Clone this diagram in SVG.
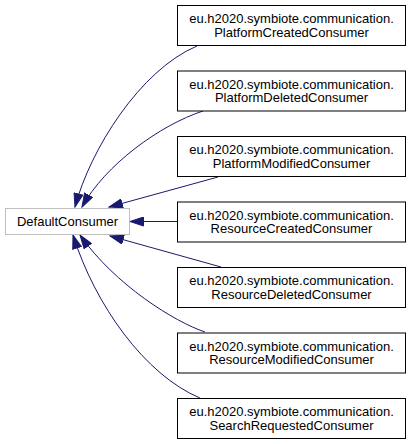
<svg xmlns="http://www.w3.org/2000/svg" width="411" height="444" viewBox="0 0 411 444">
<style>
.box{fill:#fff;stroke:#000;stroke-width:1}
.base{fill:#fff;stroke:#bfbfbf;stroke-width:1}
text{font-family:"Liberation Sans",Arial,sans-serif;font-size:13px;fill:#000;text-anchor:middle}
.edge{fill:none;stroke:#191970;stroke-width:1}
</style>
<defs>
<marker id="ah" markerWidth="15" markerHeight="10" refX="14" refY="5" orient="auto" markerUnits="userSpaceOnUse">
<polygon points="0.5,0.5 14,5 0.5,9.5" fill="#191970" stroke="#191970"/>
</marker>
</defs>
<rect width="411" height="444" fill="#fff"/>
<g id="connectors">
<path class="edge" marker-end="url(#ah)" d="M197,46 C140,70 90,150 75,207"/>
<path class="edge" marker-end="url(#ah)" d="M203,111 C160,125 105,165 82,207"/>
<path class="edge" marker-end="url(#ah)" d="M218,177 L109,207"/>
<path class="edge" marker-end="url(#ah)" d="M177,221.5 L130,221.5"/>
<path class="edge" marker-end="url(#ah)" d="M221,267 L110,236"/>
<path class="edge" marker-end="url(#ah)" d="M205,332 C175,322 115,285 80,235"/>
<path class="edge" marker-end="url(#ah)" d="M200,398 C145,375 95,305 73,235"/>
</g>
<g id="DefaultConsumer">
<rect class="base" x="5.5" y="208.5" width="124" height="26"/>
<text x="67.5" y="226">DefaultConsumer</text>
</g>
<g id="PlatformCreatedConsumer">
<rect class="box" x="177.5" y="5.5" width="228" height="40"/>
<text x="291.5" y="23">eu.h2020.symbiote.communication.</text>
<text x="291.5" y="36.5">PlatformCreatedConsumer</text>
</g>
<g id="PlatformDeletedConsumer">
<rect class="box" x="177.5" y="71" width="228" height="40"/>
<text x="291.5" y="88.5">eu.h2020.symbiote.communication.</text>
<text x="291.5" y="102">PlatformDeletedConsumer</text>
</g>
<g id="PlatformModifiedConsumer">
<rect class="box" x="177.5" y="136.5" width="228" height="40"/>
<text x="291.5" y="154">eu.h2020.symbiote.communication.</text>
<text x="291.5" y="167.5">PlatformModifiedConsumer</text>
</g>
<g id="ResourceCreatedConsumer">
<rect class="box" x="177.5" y="202" width="228" height="40"/>
<text x="291.5" y="219.5">eu.h2020.symbiote.communication.</text>
<text x="291.5" y="233">ResourceCreatedConsumer</text>
</g>
<g id="ResourceDeletedConsumer">
<rect class="box" x="177.5" y="267.5" width="228" height="40"/>
<text x="291.5" y="285">eu.h2020.symbiote.communication.</text>
<text x="291.5" y="298.5">ResourceDeletedConsumer</text>
</g>
<g id="ResourceModifiedConsumer">
<rect class="box" x="177.5" y="333" width="228" height="40"/>
<text x="291.5" y="350.5">eu.h2020.symbiote.communication.</text>
<text x="291.5" y="364">ResourceModifiedConsumer</text>
</g>
<g id="SearchRequestedConsumer">
<rect class="box" x="177.5" y="398.5" width="228" height="40"/>
<text x="291.5" y="416">eu.h2020.symbiote.communication.</text>
<text x="291.5" y="429.5">SearchRequestedConsumer</text>
</g>
</svg>
